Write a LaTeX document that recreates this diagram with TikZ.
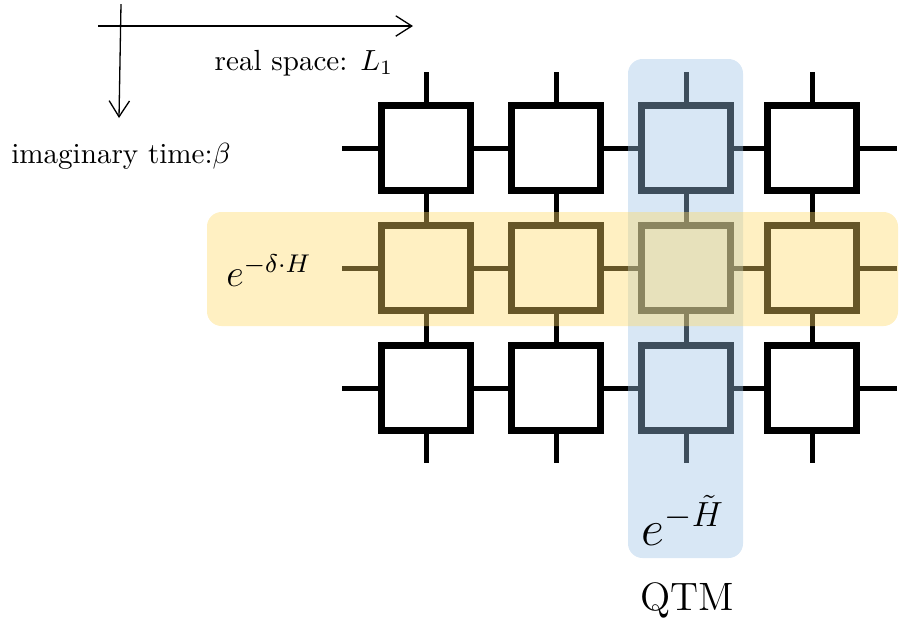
\documentclass[tikz,border=0pt]{standalone}
\usepackage{graphicx}
\usetikzlibrary{arrows.meta}
\definecolor{bandblue}{RGB}{157,195,230}
\definecolor{bandyellow}{RGB}{255,217,102}
\begin{document}
\begin{tikzpicture}[x=0.3436pt,y=-0.3436pt,
  tensor/.style={draw=black,line width=2.23pt,minimum width=30.6pt,minimum height=29.2pt,inner sep=0pt,outer sep=0pt},
  leg/.style={draw=black,line width=1.72pt},
  axis/.style={draw=black,line width=0.45pt,-{Straight Barb[length=5.5pt,width=7pt]}},
  band/.style={fill opacity=0.4,rounded corners=5pt}]
\useasboundingbox (0,0) rectangle (899,629);
% axes
\coordinate (ha) at (98,26);
\coordinate (hb) at (413,26);
\coordinate (va) at (121,4);
\coordinate (vb) at (119,118);
\draw[axis] (ha) -- (hb);
\draw[axis] (va) -- (vb);
% tensor grid
\foreach \c/\x in {1/426,2/556,3/686,4/812}{
  \foreach \r/\y in {1/148,2/268,3/388}{
    \node[tensor] (s\r\c) at (\x,\y) {};
  }
  \coordinate (t\c) at (\x,72);
  \coordinate (b\c) at (\x,463);
}
\foreach \r/\y in {1/148,2/268,3/388}{
  \coordinate (l\r) at (342,\y);
  \coordinate (r\r) at (897,\y);
}
\foreach \c in {1,2,3,4}{
  \draw[leg] (t\c) -- (s1\c.north);
  \draw[leg] (s1\c.south) -- (s2\c.north);
  \draw[leg] (s2\c.south) -- (s3\c.north);
  \draw[leg] (s3\c.south) -- (b\c);
}
\foreach \r in {1,2,3}{
  \draw[leg] (l\r) -- (s\r1.west);
  \draw[leg] (s\r1.east) -- (s\r2.west);
  \draw[leg] (s\r2.east) -- (s\r3.west);
  \draw[leg] (s\r3.east) -- (s\r4.west);
  \draw[leg] (s\r4.east) -- (r\r);
}
\foreach \c in {1,2,3,4}{
  \foreach \r in {1,2,3}{
    \node[tensor] at (s\r\c) {};
  }
}
% bands
\fill[band,bandblue] (628,59) rectangle (743,558);
\fill[band,bandyellow] (207,212) rectangle (898,326);
% labels
\node (rs) at (304,63) {real space: $L_1$};
\node (it) at (121,156) {imaginary time:$\beta$};
\node (ed) at (269,271) {\scalebox{1.1}{\large $e^{-\delta\cdot H}$}};
\node (eh) at (683,520) {\LARGE $e^{-\tilde H}$};
\node (qtm) at (687,600) {\fontsize{13.6}{16}\selectfont QTM};
\end{tikzpicture}
\end{document}
